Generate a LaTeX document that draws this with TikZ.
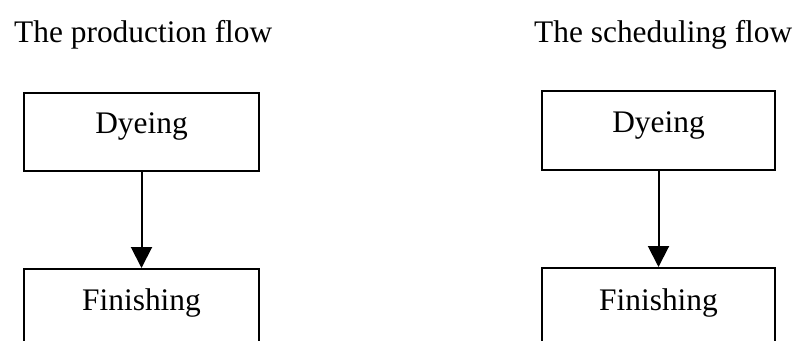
\documentclass[tikz,border=0pt]{standalone}
\usepackage{fontspec}
\setmainfont{Liberation Serif}
\usetikzlibrary{arrows.meta}
\begin{document}
\begin{tikzpicture}[x=1pt,y=-1pt,
  lbl/.style={font=\fontsize{31.4}{36}\selectfont, inner sep=0pt},
  box/.style={draw, line width=2pt, inner sep=0pt, anchor=north west},
  flowarrow/.style={line width=2pt, -{Triangle[length=21pt,width=21pt]}}]
\useasboundingbox (0,0) rectangle (797,340);
\clip (0,0) rectangle (797,340);
% titles
\node[lbl, anchor=base west] (t1) at (14,42) {The production flow};
\node[lbl, anchor=base west] (t2) at (534,42) {The scheduling flow};
% left column
\node[box, minimum width=235pt, minimum height=78pt] (d1) at (23,92) {};
\node[box, minimum width=235pt, minimum height=130pt] (f1) at (23,268) {};
\path (d1.north) ++(0,41) node[lbl, anchor=base] (d1t) {Dyeing};
\path (f1.north) ++(0,42) node[lbl, anchor=base] (f1t) {Finishing};
\draw[flowarrow] (d1.south) -- (f1.north);
% right column
\node[box, minimum width=233pt, minimum height=79pt] (d2) at (541,90) {};
\node[box, minimum width=233pt, minimum height=130pt] (f2) at (541,267) {};
\path (d2.north) ++(0,42) node[lbl, anchor=base] (d2t) {Dyeing};
\path (f2.north) ++(0,43) node[lbl, anchor=base] (f2t) {Finishing};
\draw[flowarrow] (d2.south) -- (f2.north);
\end{tikzpicture}
\end{document}
